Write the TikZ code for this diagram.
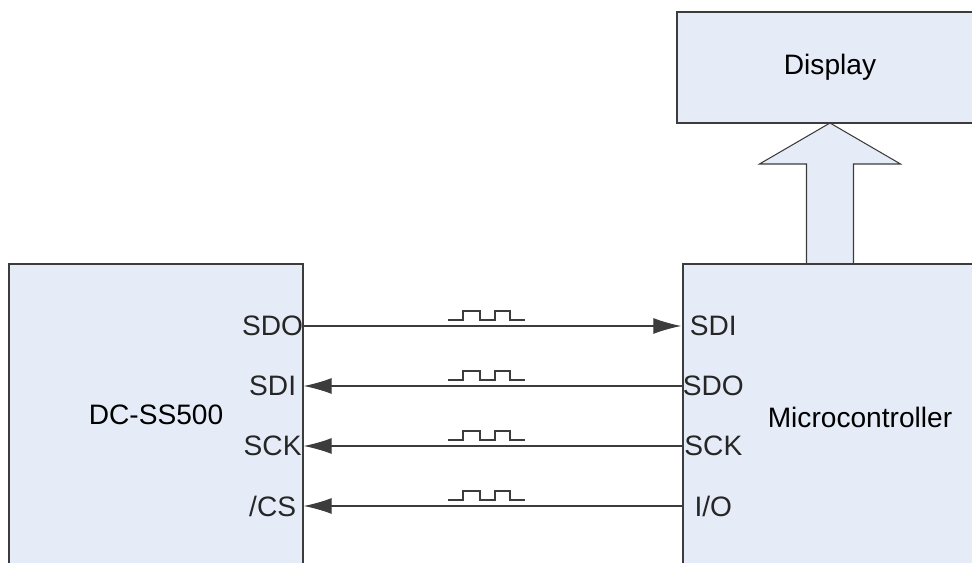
\documentclass[tikz,border=0pt]{standalone}
\usepackage{fontspec}
\setmainfont{Liberation Sans}
\usepackage{tikz}
\usetikzlibrary{arrows.meta}
\usetikzlibrary{calc}

\definecolor{boxfill}{HTML}{E6ECF7}
\definecolor{boxline}{HTML}{3C3C3C}

\begin{document}
\begin{tikzpicture}[
        >={Latex[length=5.6mm,width=3.2mm]},
        font=\fontsize{16}{19}\selectfont,
        block/.style={draw=boxline, fill=boxfill, line width=0.85pt,
                      inner sep=0pt},
        pinlabel/.style={inner sep=0pt, text width=1.23cm, align=center,
                         text=black!85},
        signal/.style={draw=boxline, line width=0.6pt},
        clockmark/.style={draw=boxline, line width=0.6pt},
        busarrow/.style={draw=boxline, fill=boxfill, line width=0.6pt},
    ]
    \useasboundingbox (0cm, 0cm) rectangle (19.44cm, 11.26cm);
    \clip (0cm, 0cm) rectangle (19.44cm, 11.26cm);

    % wide arrow up to the display (drawn under the boxes)
    \coordinate (disptip) at (16.60cm, 8.80cm);
    \coordinate (busfoot) at (16.60cm, 5.98cm);
    \draw[busarrow] (busfoot) ++(-0.47cm, 0cm) -- ++(0cm, 2.0cm)
        -- ++(-0.94cm, 0cm) -- (disptip) -- ++(1.41cm, -0.82cm)
        -- ++(-0.94cm, 0cm) -- ++(0cm, -2.0cm);

    \node[block, minimum width=5.88cm, minimum height=6.04cm]
        (dcss) at (3.12cm, 2.96cm) {DC-SS500};
    \node[block, minimum width=7.08cm, minimum height=6.12cm]
        (mcu) at (17.20cm, 2.92cm) {Microcontroller};
    \node[block, minimum width=6.12cm, minimum height=2.22cm]
        (disp) at (16.60cm, 9.91cm) {Display};

    % pin labels on both sides
    \foreach \pin/\txt/\y in {sdo/SDO/4.74, sdi/SDI/3.54, sck/SCK/2.34, cs/\slash CS/1.14}
        \node[pinlabel, anchor=east] (l\pin) at (dcss.east |- 0,\y) {\txt};
    \foreach \pin/\txt/\y in {sdi/SDI/4.74, sdo/SDO/3.54, sck/SCK/2.34, io/I\slash O/1.14}
        \node[pinlabel, anchor=west] (r\pin) at (mcu.west |- 0,\y) {\txt};

    \draw[signal, ->, shorten >=0.02cm] (lsdo.east) -- (rsdi.west);
    \draw[signal, <-] (lsdi.east) -- (rsdo.west);
    \draw[signal, <-] (lsck.east) -- (rsck.west);
    \draw[signal, <-] (lcs.east) -- (rio.west);

    % clock pulses above each line
    \foreach \y in {4.74cm, 3.54cm, 2.34cm, 1.14cm}
        \draw[clockmark] (8.96cm, \y) ++(0cm, 0.12cm) -- ++(0.30cm, 0cm)
            -- ++(0cm, 0.18cm) -- ++(0.34cm, 0cm) -- ++(0cm, -0.18cm)
            -- ++(0.30cm, 0cm) -- ++(0cm, 0.18cm) -- ++(0.30cm, 0cm)
            -- ++(0cm, -0.18cm) -- ++(0.30cm, 0cm);

\end{tikzpicture}
\end{document}
